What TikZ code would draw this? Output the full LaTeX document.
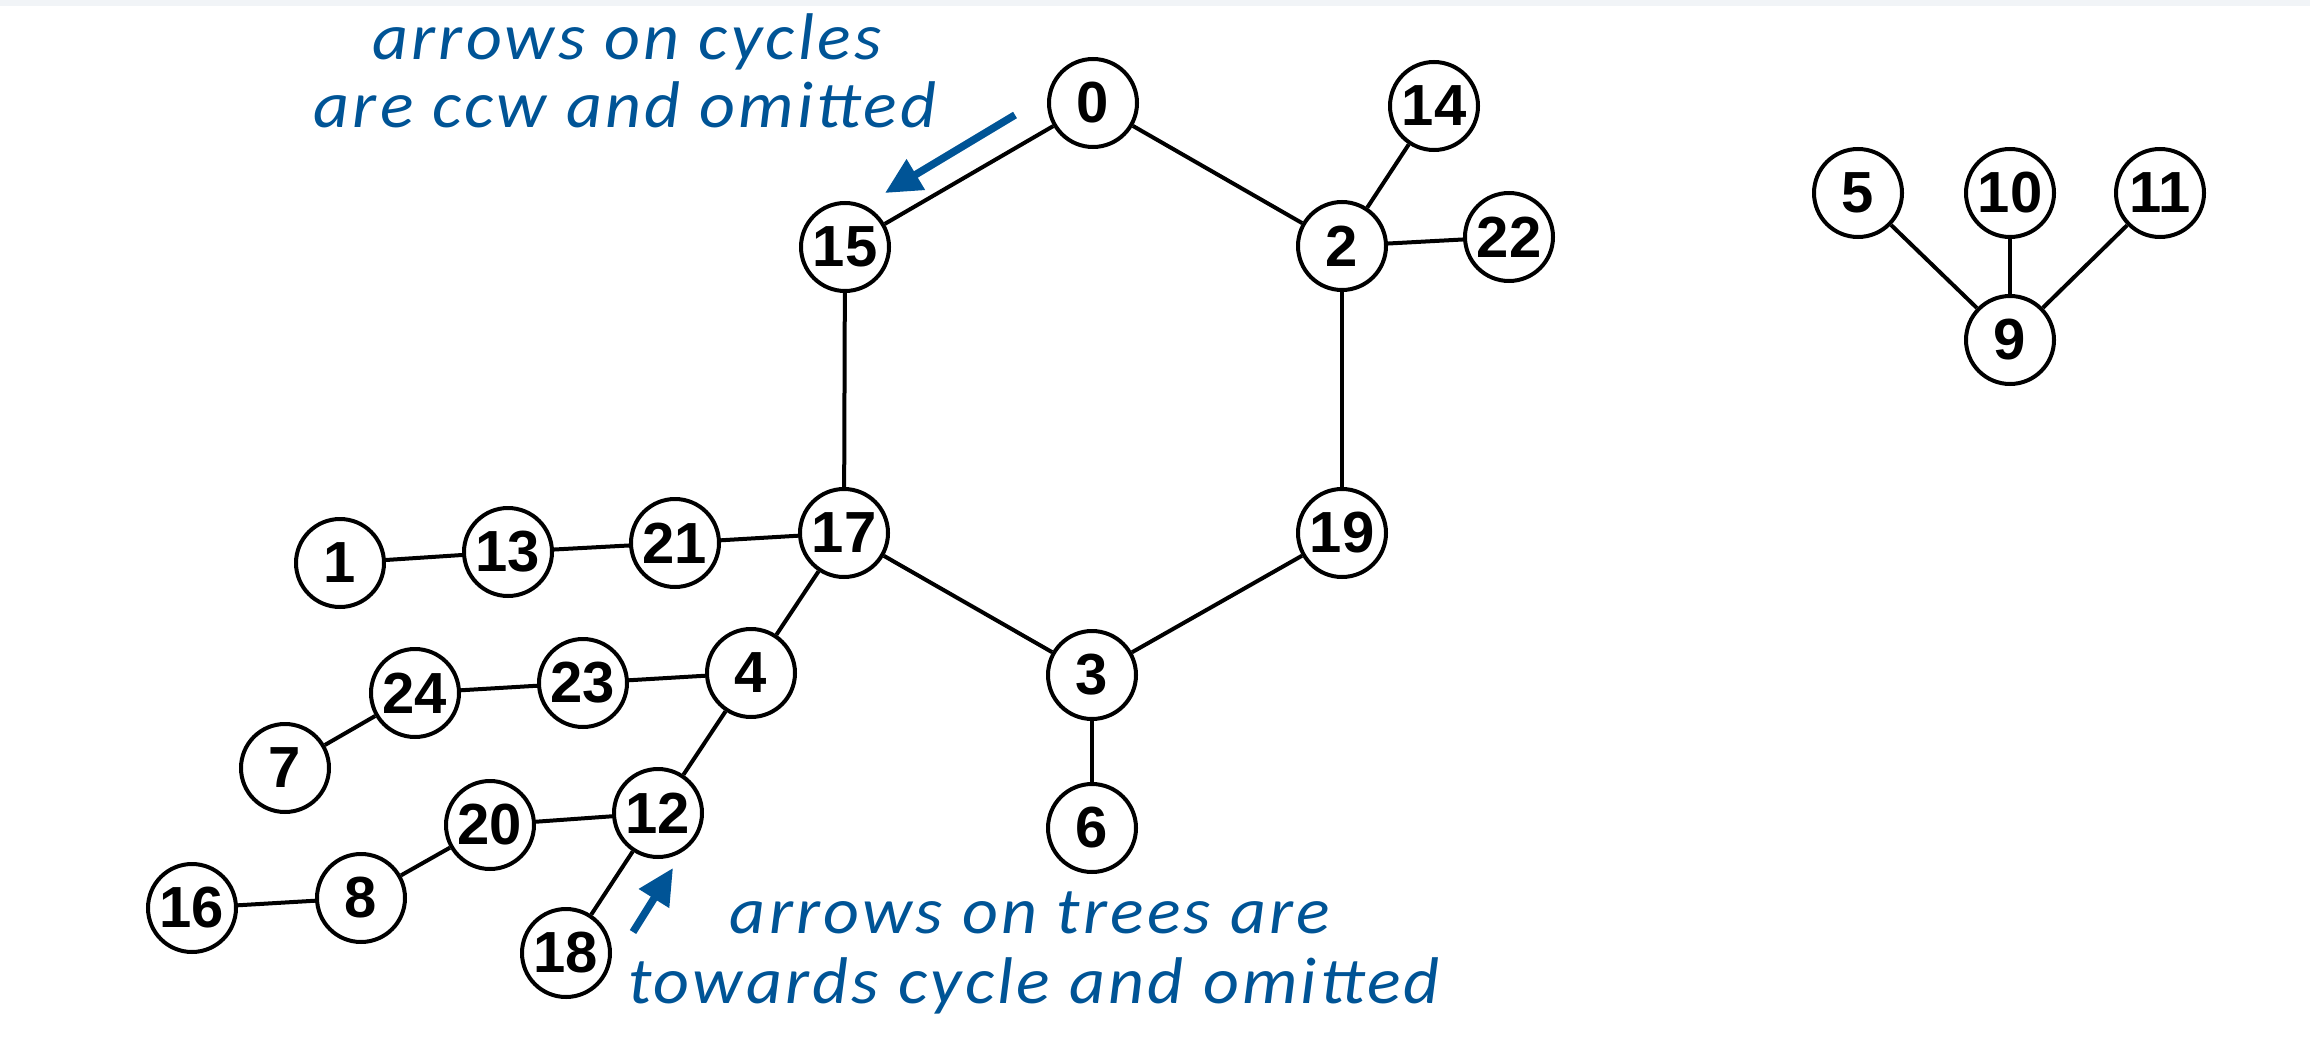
\documentclass[tikz,border=0pt]{standalone}
\usepackage{fontspec}
\setmainfont{Liberation Sans}
\newfontfamily\notefont[FakeStretch=1.06,LetterSpace=5]{Carlito}
\usetikzlibrary{arrows.meta}
\definecolor{noteblue}{RGB}{0,84,150}
\definecolor{bandgray}{RGB}{241,244,247}
\tikzset{
  vtx/.style={circle, draw=black, line width=4pt, fill=white, minimum size=88pt, inner sep=0pt,
    font=\fontsize{58}{60}\selectfont\bfseries},
  edge/.style={line width=4pt, black},
  note/.style={text=noteblue, font=\notefont\itshape\fontsize{66}{68}\selectfont, anchor=base, inner sep=0pt},
  notearrow/.style={draw=noteblue, line width=7.5pt, -{Triangle[length=36pt,width=34pt]}},
}
\begin{document}
\begin{tikzpicture}[x=1pt,y=-1pt]
\useasboundingbox (0,0) rectangle (2310,1051);
\fill[bandgray] (0,0) rectangle (2310,6);
% nodes
\node[vtx] (n0) at (1093,103) {0};
\node[vtx] (n15) at (845,247) {15};
\node[vtx] (n2) at (1342,246) {2};
\node[vtx] (n14) at (1434,106) {14};
\node[vtx] (n22) at (1509,237) {22};
\node[vtx] (n17) at (844,533) {17};
\node[vtx] (n19) at (1342,533) {19};
\node[vtx] (n3) at (1092,675) {3};
\node[vtx] (n6) at (1092,828) {6};
\node[vtx] (n1) at (340,563) {1};
\node[vtx] (n13) at (508,552) {13};
\node[vtx] (n21) at (675,543) {21};
\node[vtx] (n4) at (751,673) {4};
\node[vtx] (n23) at (583,683) {23};
\node[vtx] (n24) at (415,693) {24};
\node[vtx] (n7) at (285,768) {7};
\node[vtx] (n12) at (658,813) {12};
\node[vtx] (n20) at (490,825) {20};
\node[vtx] (n8) at (361,898) {8};
\node[vtx] (n16) at (192,908) {16};
\node[vtx] (n18) at (566,953) {18};
\node[vtx] (n5) at (1858,193) {5};
\node[vtx] (n10) at (2010,193) {10};
\node[vtx] (n11) at (2160,193) {11};
\node[vtx] (n9) at (2010,340) {9};
% edges
\foreach \a/\b in {n0/n15,n0/n2,n2/n14,n2/n22,n2/n19,n15/n17,n17/n3,n19/n3,n3/n6,
  n17/n21,n21/n13,n13/n1,n17/n4,n4/n23,n23/n24,n24/n7,n4/n12,n12/n20,n20/n8,n8/n16,n12/n18,
  n5/n9,n10/n9,n11/n9}
  \draw[edge] (\a) -- (\b);
% annotations
\node[note] (t1) at (627,60) {arrows on cycles};
\node[note] (t2) at (625,128) {are ccw and omitted};
\node[note] (t3) at (1030,933) {arrows on trees are};
\node[note] (t4) at (1034,1003) {towards cycle and omitted};
\coordinate (a1s) at (1015,115);
\coordinate (a1e) at (885,193);
\coordinate (a2s) at (633,932);
\coordinate (a2e) at (673,868);
\draw[notearrow] (a1s) -- (a1e);
\draw[notearrow] (a2s) -- (a2e);
\end{tikzpicture}
\end{document}
